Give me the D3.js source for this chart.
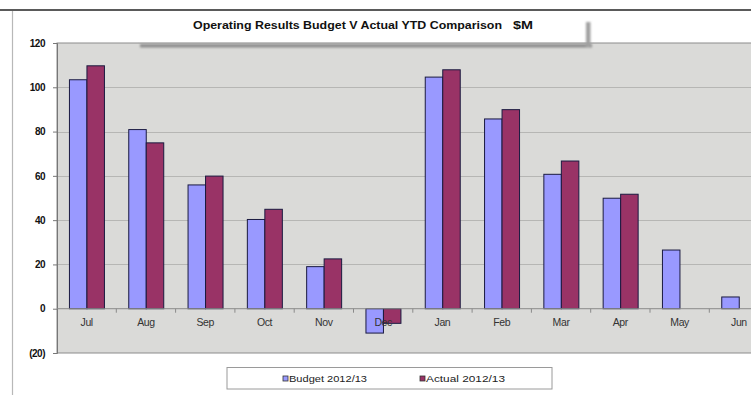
<!DOCTYPE html>
<html>
<head>
<meta charset="utf-8">
<script src="https://cdn.jsdelivr.net/npm/d3@7"></script>
<style>
  html, body { margin: 0; padding: 0; background: #fff; }
  svg { display: block; }
</style>
</head>
<body>
<svg id="chart" width="751" height="395"></svg>
<script>
// Monthly operating results, $M
const months = ["Jul","Aug","Sep","Oct","Nov","Dec","Jan","Feb","Mar","Apr","May","Jun"];
const budget = [103.4, 80.9, 55.9, 40.3, 19.0, -11.0, 104.6, 85.7, 60.7, 49.9, 26.5, 5.3];
const actual = [109.7, 74.9, 59.9, 44.9, 22.5, -6.6, 107.9, 89.9, 66.7, 51.7, null, null];
const seriesNames = ["Budget 2012/13", "Actual 2012/13"];
const seriesColors = ["#9999ff", "#993366"];
const yTicks = [-20, 0, 20, 40, 60, 80, 100, 120];
const yTickLabels = ["(20)", "0", "20", "40", "60", "80", "100", "120"];
const titleText = "Operating Results Budget V Actual YTD Comparison";
const unitText = "$M";

const svg = d3.select("#chart");
const font = "'Liberation Sans', Arial, sans-serif";

const plot = { left: 57, top: 43, bottom: 353, step: 59.3 };
const plotRight = plot.left + plot.step * months.length;

const x = d3.scaleBand().domain(months).range([plot.left, plotRight]).padding(0);
const xSeries = d3.scaleBand().domain(seriesNames)
  .range([x.bandwidth() * 0.21, x.bandwidth() * 0.8]).padding(0);
const y = d3.scaleLinear().domain([-20, 120]).range([plot.bottom, plot.top]);

const defs = svg.append("defs");
defs.append("filter").attr("id", "soft").attr("x", "-10%").attr("y", "-50%")
  .attr("width", "120%").attr("height", "200%")
  .append("feGaussianBlur").attr("stdDeviation", 1.2);

// outer frame
svg.append("line").attr("x1", 0).attr("x2", 751).attr("y1", 10).attr("y2", 10)
  .attr("stroke", "#5a5a5a").attr("stroke-width", 2);
svg.append("line").attr("x1", 12.5).attr("x2", 12.5).attr("y1", 11).attr("y2", 395)
  .attr("stroke", "#b8b8b8").attr("stroke-width", 1.2);

// plot area
svg.append("rect").attr("x", plot.left).attr("y", plot.top)
  .attr("width", plotRight - plot.left).attr("height", plot.bottom - plot.top)
  .attr("fill", "#dadad8").attr("stroke", "#8c8c8c").attr("stroke-width", 1);

// gridlines
svg.append("g").selectAll("line")
  .data(yTicks.filter(v => v > -20 && v < 120 && v !== 0))
  .join("line")
  .attr("x1", plot.left).attr("x2", plotRight)
  .attr("y1", d => Math.round(y(d)) + 0.5).attr("y2", d => Math.round(y(d)) + 0.5)
  .attr("stroke", "#b6b6b4").attr("stroke-width", 1);

// text-box shadow under the title
svg.append("g").attr("filter", "url(#soft)").call(g => {
  g.append("rect").attr("x", 140).attr("y", 44).attr("width", 452).attr("height", 3.5).attr("fill", "#8e8e8e");
  g.append("rect").attr("x", 586).attr("y", 22).attr("width", 4.5).attr("height", 25).attr("fill", "#a0a0a0");
});

// y axis
const yAxis = svg.append("g").attr("transform", `translate(${plot.left},0)`)
  .call(d3.axisLeft(y).tickValues(yTicks).tickSize(4).tickPadding(8)
    .tickFormat((d, i) => yTickLabels[i]));
yAxis.select(".domain").attr("stroke", "#777");
yAxis.selectAll(".tick line").attr("stroke", "#777");
yAxis.selectAll("text").attr("font-family", font).attr("font-size", 10)
  .attr("font-weight", "bold").attr("fill", "#111").attr("letter-spacing", -0.5);

// bars
const rows = months.map((m, i) => ({ m, vals: [budget[i], actual[i]] }));
const groups = svg.append("g").selectAll("g").data(rows).join("g")
  .attr("transform", d => `translate(${x(d.m)},0)`);
groups.selectAll("rect")
  .data(d => d.vals.map((v, k) => ({ v, k })).filter(e => e.v !== null))
  .join("rect")
  .attr("x", e => xSeries(seriesNames[e.k]))
  .attr("width", xSeries.bandwidth())
  .attr("y", e => y(Math.max(0, e.v)))
  .attr("height", e => Math.abs(y(e.v) - y(0)))
  .attr("fill", e => seriesColors[e.k])
  .attr("stroke", "#1a1a40").attr("stroke-width", 1);

// zero axis line and category ticks
svg.append("line").attr("x1", plot.left).attr("x2", plotRight)
  .attr("y1", y(0)).attr("y2", y(0)).attr("stroke", "#8a8a8a").attr("stroke-width", 1);
svg.append("g").selectAll("line").data(months.slice(1)).join("line")
  .attr("x1", d => x(d)).attr("x2", d => x(d))
  .attr("y1", y(0)).attr("y2", y(0) + 4).attr("stroke", "#8a8a8a");

// category labels, drawn over the bars
svg.append("g").selectAll("text").data(months).join("text")
  .attr("x", d => x(d) + x.bandwidth() / 2).attr("y", 326)
  .attr("text-anchor", "middle").attr("font-family", font).attr("font-size", 10.5)
  .attr("fill", "#333").attr("letter-spacing", -0.4)
  .text(d => d);

// title
svg.append("text").attr("x", 193).attr("y", 29)
  .attr("font-family", font).attr("font-size", 11).attr("font-weight", "bold")
  .attr("fill", "#111").attr("textLength", 309).attr("lengthAdjust", "spacingAndGlyphs")
  .text(titleText);
svg.append("text").attr("x", 513).attr("y", 29)
  .attr("font-family", font).attr("font-size", 11).attr("font-weight", "bold")
  .attr("fill", "#111").attr("textLength", 20).attr("lengthAdjust", "spacingAndGlyphs")
  .text(unitText);

// legend
const legend = svg.append("g");
legend.append("rect").attr("x", 227).attr("y", 367.5).attr("width", 325).attr("height", 21.5)
  .attr("fill", "#fff").attr("stroke", "#9a9a9a").attr("stroke-width", 1);
const legendX = [283, 420];
const legendW = [84, 85];
seriesNames.forEach((name, k) => {
  legend.append("rect").attr("x", legendX[k]).attr("y", 376).attr("width", 5).attr("height", 5)
    .attr("fill", seriesColors[k]).attr("stroke", "#333").attr("stroke-width", 0.8);
  legend.append("text").attr("x", legendX[k] + 6).attr("y", 382)
    .attr("font-family", font).attr("font-size", 9.5).attr("fill", "#222")
    .attr("textLength", legendW[k] - 6).attr("lengthAdjust", "spacingAndGlyphs")
    .text(name);
});
</script>
</body>
</html>
